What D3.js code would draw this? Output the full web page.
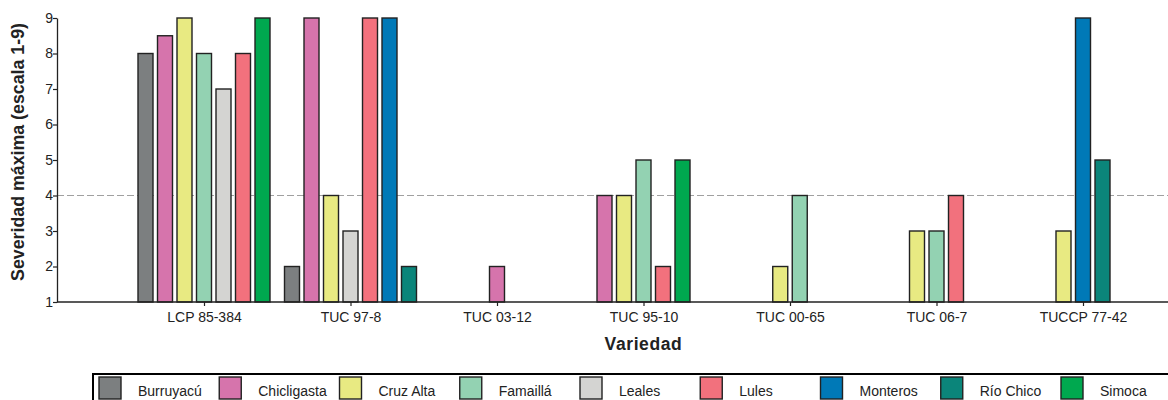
<!DOCTYPE html>
<html>
<head>
<meta charset="utf-8">
<script src="https://cdn.jsdelivr.net/npm/d3@7/dist/d3.min.js"></script>
<style>
  html, body { margin: 0; padding: 0; background: #fff; }
  svg { display: block; font-family: "Liberation Sans", Arial, sans-serif; }
</style>
</head>
<body>
<svg id="chart" width="1168" height="400"></svg>
<script>
// Varieties on the x axis
const categories = ["LCP 85-384", "TUC 97-8", "TUC 03-12", "TUC 95-10", "TUC 00-65", "TUC 06-7", "TUCCP 77-42"];

// Localities (series) and their fill colours
const localities = ["Burruyacú", "Chicligasta", "Cruz Alta", "Famaillá", "Leales", "Lules", "Monteros", "Río Chico", "Simoca"];
const colors = ["#7c7f80", "#d674ac", "#e8ea82", "#93d2b2", "#d4d4d2", "#f2717d", "#0079b7", "#0b857a", "#00a84f"];

// Maximum severity (1-9 scale) per locality, one entry per variety; null = not evaluated
const burruyacu   = [8,   2,    null, null, null, null, null];
const chicligasta = [8.5, 9,    2,    4,    null, null, null];
const cruzAlta    = [9,   4,    null, 4,    2,    3,    3];
const famailla    = [8,   null, null, 5,    4,    3,    null];
const leales      = [7,   3,    null, null, null, null, null];
const lules       = [8,   9,    null, 2,    null, 4,    null];
const monteros    = [null, 9,   null, null, null, null, 9];
const rioChico    = [null, 2,   null, null, null, null, 5];
const simoca      = [9,   null, null, 5,    null, null, null];

const seriesValues = [burruyacu, chicligasta, cruzAlta, famailla, leales, lules, monteros, rioChico, simoca];

const yTicks = [1, 2, 3, 4, 5, 6, 7, 8, 9];
const threshold = 4;

const svg = d3.select("#chart");
const plotLeft = 57, plotRight = 1168, plotTop = 18, plotBottom = 302;

const x = d3.scalePoint().domain(categories).range([204, 1083]);
const y = d3.scaleLinear().domain([1, 9]).range([plotBottom, plotTop]);

const barStep = 19.5, barWidth = 15;

// Threshold reference line
svg.append("line")
  .attr("x1", plotLeft).attr("x2", plotRight)
  .attr("y1", y(threshold)).attr("y2", y(threshold))
  .attr("stroke", "#a0a0a0").attr("stroke-width", 1.2)
  .attr("stroke-dasharray", "7,3");

// Build bars: within each variety, only localities with a value are placed side by side
const bars = [];
categories.forEach((cat, ci) => {
  const present = localities
    .map((loc, li) => ({ loc, li, v: seriesValues[li][ci] }))
    .filter(d => d.v !== null);
  const n = present.length;
  present.forEach((d, k) => {
    bars.push({ cat, loc: d.loc, li: d.li, v: d.v, offset: (k - (n - 1) / 2) * barStep });
  });
});

svg.append("g").selectAll("rect")
  .data(bars)
  .join("rect")
  .attr("x", d => x(d.cat) + d.offset - barWidth / 2)
  .attr("y", d => y(d.v))
  .attr("width", barWidth)
  .attr("height", d => y(1) - y(d.v))
  .attr("fill", d => colors[d.li])
  .attr("stroke", "#222")
  .attr("stroke-width", 1.4);

// Y axis
const yAxis = svg.append("g")
  .attr("transform", `translate(${plotLeft},0)`)
  .call(d3.axisLeft(y).tickValues(yTicks).tickFormat(d3.format("d")).tickSize(4).tickSizeOuter(0));
yAxis.select(".domain").attr("stroke", "#222").attr("stroke-width", 1.3);
yAxis.selectAll(".tick line").attr("stroke", "#222").attr("stroke-width", 1.2);
yAxis.selectAll(".tick text").attr("font-size", 14).attr("fill", "#222")
  .attr("x", -4).attr("font-family", "Liberation Sans, Arial, sans-serif");

// X axis
const xAxis = svg.append("g")
  .attr("transform", `translate(0,${plotBottom})`)
  .call(d3.axisBottom(x).tickSize(4).tickSizeOuter(0));
xAxis.select(".domain").remove();
xAxis.append("line")
  .attr("x1", plotLeft).attr("x2", plotRight)
  .attr("stroke", "#222").attr("stroke-width", 1.3);
xAxis.selectAll(".tick line").attr("stroke", "#222").attr("stroke-width", 1.2);
xAxis.selectAll(".tick text").attr("font-size", 14).attr("fill", "#222")
  .attr("y", 10).attr("font-family", "Liberation Sans, Arial, sans-serif");

// Axis titles
svg.append("text")
  .attr("transform", `translate(24,152) rotate(-90)`)
  .attr("text-anchor", "middle")
  .attr("font-size", 17.8).attr("font-weight", "bold").attr("fill", "#222")
  .text("Severidad máxima (escala 1-9)");

svg.append("text")
  .attr("x", (x(categories[0]) + x(categories[categories.length - 1])) / 2)
  .attr("y", 350)
  .attr("text-anchor", "middle")
  .attr("font-size", 17.5).attr("font-weight", "bold").attr("fill", "#222")
  .attr("letter-spacing", 0.6)
  .text("Variedad");

// Legend
const legend = svg.append("g");
legend.append("rect")
  .attr("x", 93).attr("y", 374)
  .attr("width", 1100).attr("height", 60)
  .attr("fill", "none").attr("stroke", "#000").attr("stroke-width", 2);

const legendX = d3.scaleLinear().domain([0, localities.length - 1]).range([99, 1061]);
const items = legend.selectAll("g.item")
  .data(localities)
  .join("g")
  .attr("class", "item")
  .attr("transform", (d, i) => `translate(${legendX(i)},377)`);
items.append("rect")
  .attr("width", 22).attr("height", 22)
  .attr("fill", (d, i) => colors[i])
  .attr("stroke", "#222").attr("stroke-width", 1.4);
items.append("text")
  .attr("x", 39).attr("y", 19)
  .attr("font-size", 14).attr("fill", "#222")
  .text(d => d);
</script>
</body>
</html>
